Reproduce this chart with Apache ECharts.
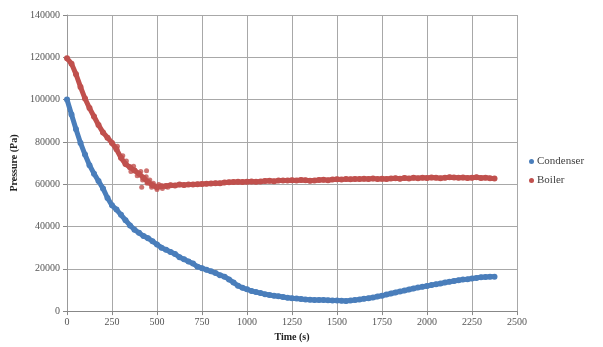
<!DOCTYPE html>
<html>
<head>
<meta charset="utf-8">
<script src="https://cdn.jsdelivr.net/npm/echarts@6/dist/echarts.min.js"></script>
<style>
  html, body { margin: 0; padding: 0; background: #fff; }
  #chart { width: 603px; height: 347px; }
</style>
</head>
<body>
<div id="chart"></div>
<script>
// sample times (s)
const times = [
  0, 25, 50, 75, 100, 125, 150, 175, 200, 225, 250, 275, 300, 325, 350, 375, 400, 425, 450, 475,
  500, 525, 550, 575, 600, 625, 650, 675, 700, 725, 750, 775, 800, 825, 850, 875, 900, 925, 950, 975,
  1000, 1025, 1050, 1075, 1100, 1125, 1150, 1175, 1200, 1225, 1250, 1275, 1300, 1325, 1350, 1375, 1400, 1425, 1450, 1475,
  1500, 1525, 1550, 1575, 1600, 1625, 1650, 1675, 1700, 1725, 1750, 1775, 1800, 1825, 1850, 1875, 1900, 1925, 1950, 1975,
  2000, 2025, 2050, 2075, 2100, 2125, 2150, 2175, 2200, 2225, 2250, 2275, 2300, 2325, 2350, 2375
];
// pressure (Pa)
const condenser = [
  100000, 93000, 86000, 79500, 74000, 69000, 65000, 61500, 58000, 53500, 50000, 48000, 45500, 43000, 40500, 38500, 37000, 35500, 34500, 33000,
  31500, 30000, 29000, 28000, 27000, 25500, 24500, 23500, 22500, 21000, 20300, 19500, 18800, 18000, 17000, 16300, 15000, 13500, 12000, 11000,
  10300, 9500, 9000, 8500, 8000, 7600, 7300, 7000, 6700, 6300, 6100, 5900, 5700, 5500, 5400, 5300, 5300, 5200, 5100, 5000,
  5000, 4900, 4800, 5000, 5200, 5500, 5800, 6100, 6400, 6900, 7300, 7800, 8300, 8800, 9300, 9700, 10200, 10700, 11100, 11500,
  11900, 12300, 12700, 13000, 13500, 13900, 14200, 14600, 14900, 15100, 15400, 15700, 16000, 16100, 16200, 16300
];
const boiler = [
  119500, 117000, 112000, 106000, 100500, 96000, 92000, 88000, 84500, 82000, 79500, 76500, 72500, 69500, 68000, 66500, 65000, 63000, 61000, 59500,
  58500, 59000, 59200, 59500, 59400, 59800, 59600, 59800, 59900, 60000, 60100, 60200, 60300, 60500, 60400, 60800, 60900, 61000, 61100, 61000,
  61200, 61300, 61100, 61300, 61500, 61600, 61400, 61700, 61800, 61700, 61900, 61800, 62000, 61900, 61600, 61800, 62000, 62100, 61900, 62200,
  62300, 62200, 62400, 62300, 62500, 62400, 62600, 62500, 62700, 62400, 62600, 62500, 62700, 62800, 62600, 62900, 62700, 63000, 62800, 63100,
  62900, 63200, 63000, 62800, 63100, 63300, 63200, 63000, 63200, 62900, 63100, 63300, 62900, 63100, 62800, 62700
];
// scattered boiler readings in the noisy part
const boilerNoiseT = [280, 310, 330, 355, 370, 390, 410, 415, 420, 440, 442, 445, 460, 470, 480, 500, 510, 530, 560];
const boilerNoiseP = [78000, 73500, 71000, 66000, 68500, 64000, 66000, 58600, 62000, 63500, 66400, 60500, 62000, 58500, 60500, 57500, 59800, 58000, 58600];

const blue = '#4a7ebb';
const red = '#c0504d';
const serif = '"Liberation Serif", "DejaVu Serif", serif';

const chart = echarts.init(document.getElementById('chart'));
const option = {
  animation: false,
  backgroundColor: '#fff',
  grid: { left: 67, right: 86, top: 15, bottom: 34 },
  legend: {
    orient: 'vertical',
    left: 524,
    top: 151,
    itemWidth: 5,
    itemHeight: 5,
    itemGap: 8,
    icon: 'circle',
    textStyle: { fontFamily: serif, fontSize: 11, color: '#404040', padding: [0, 0, 0, -2] },
    data: ['Condenser', 'Boiler']
  },
  xAxis: {
    type: 'value',
    min: 0,
    max: 2500,
    interval: 250,
    name: 'Time (s)',
    nameLocation: 'middle',
    nameGap: 19,
    nameTextStyle: { fontFamily: serif, fontSize: 10, fontWeight: 'bold', color: '#222' },
    axisLine: { lineStyle: { color: '#888', width: 1 } },
    axisTick: { show: true, length: 4, lineStyle: { color: '#888' } },
    axisLabel: { fontFamily: serif, fontSize: 10, color: '#555', margin: 6, formatter: v => String(v) },
    splitLine: { show: true, lineStyle: { color: '#a8a8a8', width: 1 } }
  },
  yAxis: {
    type: 'value',
    min: 0,
    max: 140000,
    interval: 20000,
    name: 'Pressure (Pa)',
    nameLocation: 'middle',
    nameGap: 46,
    nameTextStyle: { fontFamily: serif, fontSize: 10, fontWeight: 'bold', color: '#222' },
    axisLine: { show: true, lineStyle: { color: '#999', width: 1 } },
    axisTick: { show: true, length: 4, lineStyle: { color: '#888' } },
    axisLabel: { fontFamily: serif, fontSize: 10, color: '#555', margin: 7, formatter: v => String(v) },
    splitLine: { show: true, lineStyle: { color: '#a8a8a8', width: 1 } }
  },
  series: [
    {
      name: 'Condenser',
      type: 'line',
      color: blue,
      data: times.map((t, i) => [t, condenser[i]]),
      symbol: 'circle',
      symbolSize: 6,
      showAllSymbol: true,
      lineStyle: { width: 5, color: blue }
    },
    {
      name: 'Boiler',
      type: 'line',
      color: red,
      data: times.map((t, i) => [t, boiler[i]]),
      symbol: 'circle',
      symbolSize: 6,
      showAllSymbol: true,
      lineStyle: { width: 5, color: red }
    },
    {
      name: 'Boiler',
      type: 'scatter',
      color: red,
      data: boilerNoiseT.map((t, i) => [t, boilerNoiseP[i]]),
      symbolSize: 5
    }
  ]
};
chart.setOption(option);
</script>
</body>
</html>
